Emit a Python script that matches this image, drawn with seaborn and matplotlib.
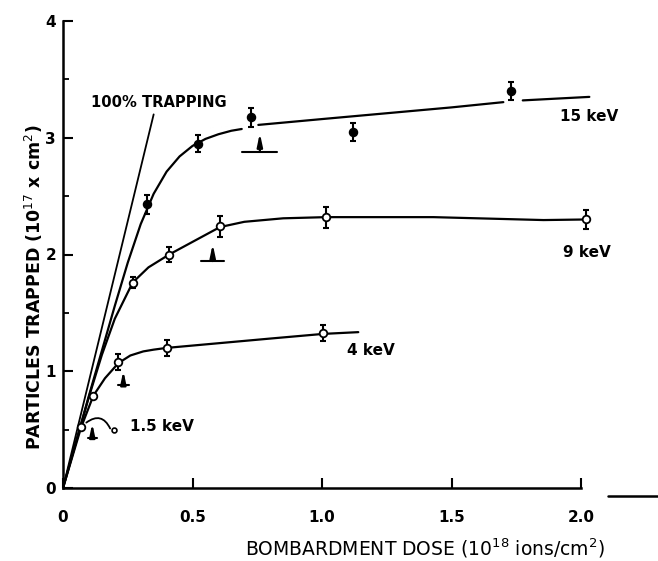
import numpy as np
import matplotlib
matplotlib.use("Agg")
import matplotlib.pyplot as plt
import seaborn as sns
import pandas as pd
from matplotlib.lines import Line2D

# ---- data ----
p15_x = [0.325, 0.52, 0.725, 1.12, 1.73]
p15_y = [2.43, 2.95, 3.175, 3.05, 3.40]
p15_err = [0.08, 0.07, 0.08, 0.08, 0.08]

p9_x = [0.269, 0.41, 0.606, 1.015, 2.02]
p9_y = [1.76, 2.00, 2.24, 2.32, 2.30]
p9_err = [0.05, 0.06, 0.09, 0.09, 0.08]

p4_x = [0.117, 0.214, 0.40, 1.005]
p4_y = [0.79, 1.08, 1.20, 1.325]
p4_err = [0.0, 0.07, 0.07, 0.07]

p15kev_x = [0.07]
p15kev_y = [0.525]

# hand-drawn fit curves (NaN = gap in the drawn line)
c15_x = [0, 0.10, 0.20, 0.25, 0.30, 0.35, 0.40, 0.45, 0.50, 0.55, 0.60, 0.65, 0.69,
         np.nan, 0.754, 1.0, 1.25, 1.5, 1.70, np.nan, 1.775, 2.032]
c15_y = [0, 0.79, 1.56, 1.93, 2.26, 2.52, 2.71, 2.84, 2.93, 2.99, 3.03, 3.06, 3.075,
         np.nan, 3.11, 3.16, 3.21, 3.26, 3.305, np.nan, 3.32, 3.35]

c9_x = [0, 0.10, 0.15, 0.20, 0.269, 0.33, 0.41, 0.51, 0.606, 0.70, 0.85, 1.015, 1.43, 1.855, 2.02]
c9_y = [0, 0.78, 1.14, 1.45, 1.76, 1.89, 2.00, 2.12, 2.235, 2.28, 2.31, 2.32, 2.32, 2.295, 2.30]

c4_x = [0, 0.07, 0.117, 0.162, 0.214, 0.26, 0.31, 0.35, 0.40, 0.60, 0.80, 1.005, 1.14]
c4_y = [0, 0.52, 0.79, 0.94, 1.07, 1.135, 1.17, 1.185, 1.20, 1.24, 1.28, 1.32, 1.335]

trap_x = [0, 0.35]
trap_y = [0, 3.2]

# upward arrows with base bars
arr_x = [0.113, 0.233, 0.578, 0.76]
arr_base = [0.425, 0.882, 1.944, 2.88]
arr_tip = [0.554, 1.005, 2.09, 3.04]
arr_half = [0.017, 0.02, 0.044, 0.068]

x_ticks = [0, 0.5, 1.0, 1.5, 2.0]
x_ticklabels = ["0", "0.5", "1.0", "1.5", "2.0"]
y_ticks = [0, 1, 2, 3, 4]
y_ticklabels = ["0", "1", "2", "3", "4"]

# ---- plot ----
sns.set_style("ticks")
plt.rcParams['font.family'] = ['DejaVu Sans']
plt.rcParams['text.color'] = 'black'
plt.rcParams['axes.labelcolor'] = 'black'
plt.rcParams['xtick.color'] = 'black'
plt.rcParams['ytick.color'] = 'black'

fig = plt.figure(figsize=(6.58, 5.61), dpi=100)
ax = fig.add_axes([63/658, 1-488/561, 531/658, 467/561])

lw = 1.6
ax.plot(trap_x, trap_y, color='black', lw=1.3)
ax.plot(c15_x, c15_y, color='black', lw=lw)
ax.plot(c9_x, c9_y, color='black', lw=lw)
ax.plot(c4_x, c4_y, color='black', lw=lw)

# error bars
for xs, ys, es in [(p15_x, p15_y, p15_err), (p9_x, p9_y, p9_err), (p4_x, p4_y, p4_err)]:
    ax.errorbar(xs, ys, yerr=es, fmt='none', ecolor='black', elinewidth=1.5,
                capsize=2.0, capthick=1.5, clip_on=False)

df15 = pd.DataFrame({'x': p15_x, 'y': p15_y})
df9 = pd.DataFrame({'x': p9_x, 'y': p9_y})
df4 = pd.DataFrame({'x': p4_x + p15kev_x, 'y': p4_y + p15kev_y})
sns.scatterplot(data=df15, x='x', y='y', ax=ax, marker='o', s=34, color='black',
                edgecolor='black', linewidth=1.0, clip_on=False, zorder=5, legend=False)
sns.scatterplot(data=df9, x='x', y='y', ax=ax, marker='o', s=30, color='white',
                edgecolor='black', linewidth=1.3, clip_on=False, zorder=5, legend=False)
sns.scatterplot(data=df4, x='x', y='y', ax=ax, marker='o', s=30, color='white',
                edgecolor='black', linewidth=1.3, clip_on=False, zorder=5, legend=False)

# arrows
for x, b, t, h in zip(arr_x, arr_base, arr_tip, arr_half):
    ax.plot([x - h, x + h], [b, b], color='black', lw=1.5)
    ax.annotate('', xy=(x, t), xytext=(x, b),
                arrowprops=dict(arrowstyle='-|>,head_length=0.75,head_width=0.16',
                                color='black', lw=1.6, shrinkA=0, shrinkB=0))

# 1.5 keV leader and symbol
ax.annotate('', xy=(0.182, 0.51), xytext=(0.09, 0.56),
            arrowprops=dict(arrowstyle='-', color='black', lw=1.3,
                            connectionstyle='arc3,rad=-0.6', shrinkA=0, shrinkB=0))
ax.plot([0.198], [0.497], marker='o', ms=3.5, mfc='white', mec='black', mew=1.2)

tfs = 11
ax.text(0.11, 3.3, "100% TRAPPING", fontsize=10.6, fontweight='bold', va='center', ha='left')
ax.text(1.92, 3.18, "15 keV", fontsize=tfs, fontweight='bold', va='center', ha='left')
ax.text(1.93, 2.02, "9 keV", fontsize=tfs, fontweight='bold', va='center', ha='left')
ax.text(1.095, 1.18, "4 keV", fontsize=tfs, fontweight='bold', va='center', ha='left')
ax.text(0.26, 0.53, "1.5 keV", fontsize=tfs, fontweight='bold', va='center', ha='left')

ax.set_xlim(0, 2.05)
ax.set_ylim(0, 4)
ax.set_xticks(x_ticks)
ax.set_xticklabels(x_ticklabels, fontsize=11, fontweight='bold')
ax.set_yticks(y_ticks)
ax.set_yticklabels(y_ticklabels, fontsize=11, fontweight='bold')
ax.set_yticks(np.arange(0.5, 4, 1.0), minor=True)
ax.tick_params(axis='both', which='major', direction='in', length=7, width=1.5, pad=16)
ax.tick_params(axis='y', which='minor', direction='in', length=4, width=1.3)
ax.tick_params(axis='y', which='major', pad=5)

sns.despine(ax=ax)
ax.spines['left'].set_bounds(0, 4)
ax.spines['bottom'].set_bounds(0, 2.0)
for s in ['left', 'bottom']:
    ax.spines[s].set_linewidth(1.8)
    ax.spines[s].set_color('black')

ax.set_xlabel("BOMBARDMENT DOSE (10$^{18}$ ions/cm$^{2}$)", fontsize=13.5)
ax.set_ylabel("PARTICLES TRAPPED (10$^{17}$ x cm$^{2}$)", fontsize=12.5, fontweight='bold')
ax.xaxis.label.set_va('center')
ax.yaxis.label.set_va('center')
ax.xaxis.set_label_coords((425-63)/531, -(548-488)/467)
ax.yaxis.set_label_coords((34-63)/531, (488-287)/467)

# short axis-extension segment at the right (as in the scan)
fig.add_artist(Line2D([608/658, 658/658], [1-496/561, 1-496/561], color='black', lw=1.8))

fig.savefig("out.png", dpi=100, facecolor='white')
